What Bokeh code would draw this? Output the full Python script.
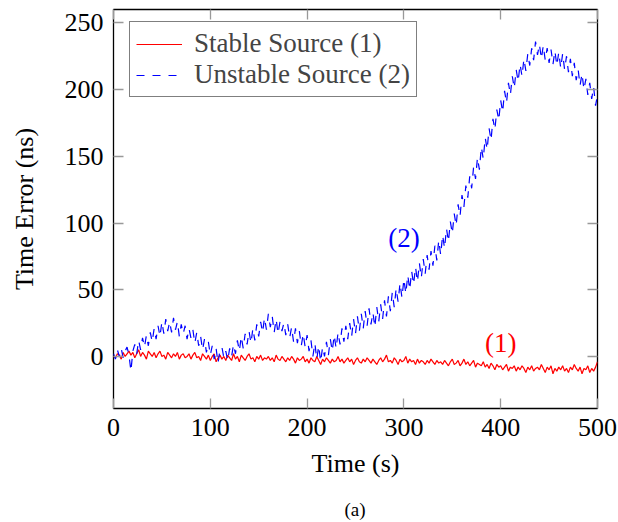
from bokeh.plotting import figure
from bokeh.layouts import column
from bokeh.models import (Range1d, LinearAxis, FixedTicker, Legend, LegendItem, Label,
                          CustomLabelingPolicy, Div)
from bokeh.embed import file_html
from bokeh.resources import INLINE

time_step_s = 2
stable_source = [
    0, -1, 2, 1, -2, 3, 0, 2, 4, 1,
    3, -1, 2, 5, 0, 3, 1, -2, 4, 2,
    0, 3, -1, 2, 4, 0, 1, -2, 3, 1,
    -1, 2, 0, 3, -2, 1, 2, -1, 0, 2,
    -2, 1, 3, -1, 0, -3, 2, 0, -2, 1,
    -3, 0, 2, -4, -1, 1, -2, 0, -3, 1,
    -1, -3, 2, -2, 0, -4, 1, -1, -3, 0,
    2, -2, -1, -4, 0, -2, 1, -3, -1, -2,
    0, -3, -1, -4, 1, -2, -3, 0, -2, -4,
    -1, -3, 0, -2, -5, -1, -3, -2, 0, -4,
    -2, -5, -1, -3, -4, 0, -3, -6, -2, -4,
    -1, -3, -5, -2, -4, -3, 0, -4, -2, -5,
    -3, -1, -4, -2, -6, -3, -1, -4, -5, -2,
    -4, -1, -3, -5, -2, -4, -6, -3, -1, -4,
    -2, 1, -4, -3, -5, -1, -3, -6, -2, -4,
    -3, 0, -5, -2, -4, -3, -6, -2, -5, -3,
    -4, -6, -3, -5, -2, -4, -6, -3, -5, -4,
    -6, -3, -5, -7, -4, -2, -6, -5, -3, -7,
    -5, -2, -6, -4, -7, -5, -3, -8, -5, -6,
    -7, -4, -8, -6, -9, -5, -7, -10, -6, -8,
    -7, -10, -8, -6, -11, -8, -9, -7, -11, -8,
    -10, -7, -9, -12, -8, -10, -7, -11, -9, -8,
    -10, -6, -9, -12, -8, -10, -7, -13, -9, -11,
    -8, -10, -7, -11, -9, -12, -8, -10, -6, -9,
    -11, -8, -13, -9, -10, -7, -12, -9, -11, -8,
    -4,
]
unstable_source = [
    2, -2, 5, 0, 6, -1, 4, 7, 1, -11,
    4, 9, 2, 12, 5, 14, 7, 16, 8, 18,
    11, 21, 13, 23, 15, 26, 17, 28, 19, 26,
    18, 29, 20, 26, 15, 24, 17, 23, 13, 21,
    14, 20, 10, 18, 8, 15, 5, 13, 3, 11,
    1, 8, -2, 6, -5, 5, 7, -1, 4, -3,
    6, 0, 9, 2, 12, 4, 15, 6, 17, 9,
    19, 10, 21, 12, 24, 15, 26, 18, 29, 20,
    32, 22, 30, 18, 28, 17, 26, 19, 25, 16,
    24, 14, 22, 11, 21, 10, 19, 8, 17, 7,
    16, 4, 12, 0, 10, -2, 8, -4, 7, 0,
    11, 1, 13, 4, 16, 6, 18, 9, 21, 11,
    23, 13, 25, 15, 28, 17, 30, 19, 32, 21,
    34, 23, 36, 24, 33, 22, 37, 26, 39, 28,
    42, 30, 45, 34, 48, 37, 51, 41, 55, 44,
    58, 47, 61, 50, 64, 54, 67, 56, 70, 59,
    73, 62, 76, 65, 79, 68, 83, 72, 87, 76,
    91, 81, 96, 86, 101, 92, 107, 98, 114, 105,
    121, 112, 128, 119, 135, 126, 142, 133, 149, 140,
    157, 148, 164, 155, 171, 162, 178, 170, 185, 177,
    192, 183, 199, 190, 205, 196, 210, 201, 215, 206,
    219, 210, 223, 214, 227, 218, 231, 222, 236, 226,
    234, 223, 233, 222, 231, 220, 230, 219, 229, 218,
    228, 216, 227, 215, 225, 213, 223, 210, 220, 207,
    215, 203, 212, 200, 208, 196, 205, 193, 202, 188,
    196,
]
time_s = [i * time_step_s for i in range(len(stable_source))]

x_ticks = [0, 100, 200, 300, 400, 500]
y_ticks = [0, 50, 100, 150, 200, 250]
legend_labels = ["Stable Source (1)", "Unstable Source (2)"]
annotations = [("(1)", 400, 10, "#ff0000"), ("(2)", 300, 89, "#0000ff")]
caption = "(a)"

FONT = "Liberation Serif"

p = figure(width=618, height=490, x_range=Range1d(0, 500), y_range=Range1d(-39, 260),
           output_backend="svg", toolbar_location=None,
           min_border_left=113, min_border_right=21, min_border_top=9, min_border_bottom=82,
           x_axis_label="Time (s)", y_axis_label="Time Error (ns)")
p.grid.visible = False
p.outline_line_color = "black"
p.outline_line_width = 1.3
p.background_fill_color = "white"
p.border_fill_color = "white"

no_labels = CustomLabelingPolicy(code="return new Set()")
p.add_layout(LinearAxis(major_label_policy=no_labels), "right")
p.add_layout(LinearAxis(major_label_policy=no_labels), "above")

for ax in p.axis:
    ax.axis_line_color = None
    ax.major_tick_in = 10
    ax.major_tick_out = 0
    ax.major_tick_line_color = "#999999"
    ax.major_tick_line_width = 1.3
    ax.minor_tick_line_color = None
    ax.major_label_text_font = FONT
    ax.major_label_text_font_size = "26px"
    ax.major_label_text_color = "black"
    ax.axis_label_text_font = FONT
    ax.axis_label_text_font_size = "26px"
    ax.axis_label_text_font_style = "normal"
    ax.axis_label_text_color = "black"

p.xaxis.ticker = FixedTicker(ticks=x_ticks)
p.yaxis.ticker = FixedTicker(ticks=y_ticks)

for ax in p.right + p.above:
    ax.major_label_text_font_size = "1px"
    ax.major_label_standoff = 0

p.below[0].major_label_standoff = 10
p.below[0].axis_label_standoff = 10
p.left[0].major_label_standoff = 10
p.left[0].axis_label_standoff = 23

r1 = p.line(time_s, stable_source, line_color="#ff0000", line_width=1.2)
r2 = p.line(time_s, unstable_source, line_color="#0000ff", line_width=1.2, line_dash="8 8")

legend = Legend(items=[LegendItem(label=legend_labels[0], renderers=[r1]),
                       LegendItem(label=legend_labels[1], renderers=[r2])],
                location=(16, 311), label_text_font=FONT, label_text_font_size="27px",
                glyph_width=46, glyph_height=20, label_standoff=12, padding=6, spacing=0,
                border_line_color="black", border_line_width=1.2, background_fill_alpha=1,
                margin=0)
p.add_layout(legend)

for txt, x, y, col in annotations:
    p.add_layout(Label(x=x, y=y, text=txt, text_color=col, text_font=FONT,
                       text_font_size="27px", text_align="center", text_baseline="middle"))

cap = Div(text=caption, width=484, height=32, margin=(0, 0, 0, 113),
          styles={"text-align": "center", "font-family": FONT, "font-size": "19px",
                  "line-height": "40px", "color": "black"})

layout = column(p, cap, spacing=0)
open("out.html", "w").write(file_html(layout, INLINE))
